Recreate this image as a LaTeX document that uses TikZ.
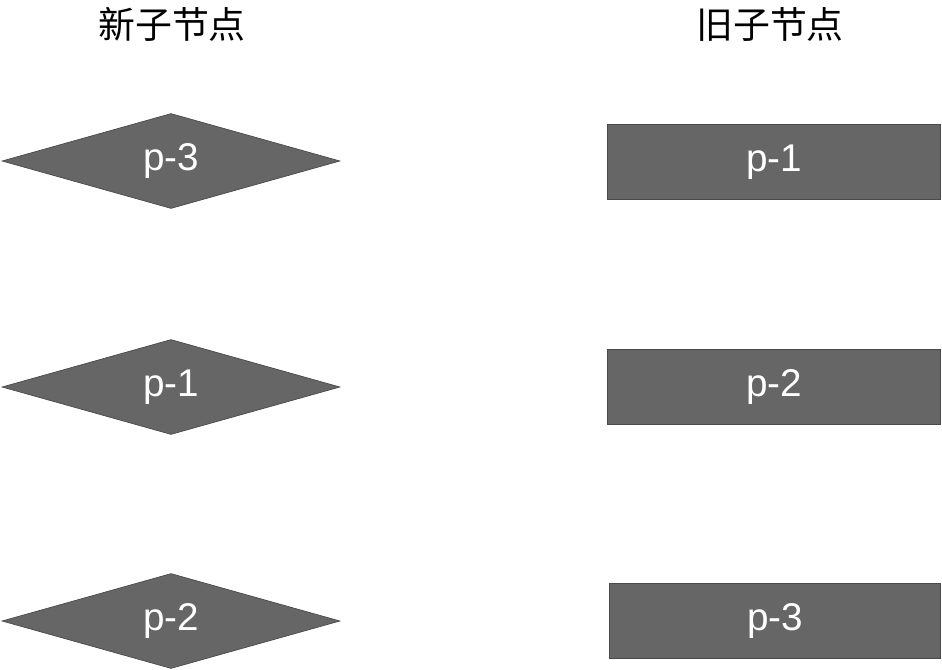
\documentclass[tikz,border=0pt]{standalone}
\usepackage{fontspec}
\setmainfont{Liberation Sans}
\newfontfamily\cjk{Noto Sans CJK SC}
\usetikzlibrary{shapes.geometric}
\definecolor{boxgray}{HTML}{666666}
\definecolor{edgegray}{HTML}{4A4A4A}
\begin{document}
\begin{tikzpicture}[x=0.02cm,y=-0.02cm]

  \tikzset{newnode/.style={diamond, aspect=3.56, minimum width=6.76cm, minimum height=1.9cm,
      inner sep=0, fill=boxgray, draw=edgegray, text=white, font=\fontsize{22}{26}\selectfont},
    oldnode/.style={rectangle, minimum width=6.66cm, minimum height=1.5cm, inner sep=0,
      fill=boxgray, draw=edgegray, text=white, font=\fontsize{22}{26}\selectfont},
    title/.style={font=\cjk\fontsize{21}{25}\selectfont}}

  \useasboundingbox (0,0) rectangle (942,669);

  \node[title] (newtitle) at (172,24) {新子节点};
  \node[title] (oldtitle) at (770,24) {旧子节点};

  \node[newnode] (n3) at (171,161) {p-3};
  \node[newnode] (n1) at (171,387) {p-1};
  \node[newnode] (n2) at (171,621) {p-2};

  \node[oldnode] (o1) at (774,162) {p-1};
  \node[oldnode] (o2) at (774,387) {p-2};
  \node[oldnode, minimum width=6.62cm] (o3) at (775,621) {p-3};

\end{tikzpicture}
\end{document}
